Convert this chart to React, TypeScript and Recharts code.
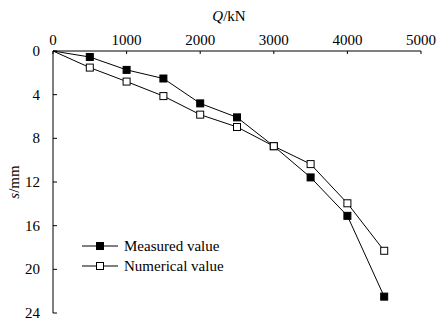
import React from "react";
import { LineChart, Line, XAxis, YAxis } from "recharts";

// Load Q (kN) vs settlement s (mm)
const loads = [0, 500, 1000, 1500, 2000, 2500, 3000, 3500, 4000, 4500];
const measured = [0, 0.55, 1.73, 2.52, 4.8, 6.08, 8.72, 11.58, 15.1, 22.5];
const numerical = [0, 1.52, 2.8, 4.13, 5.83, 6.96, 8.72, 10.36, 13.95, 18.3];
const xTicks = [0, 1000, 2000, 3000, 4000, 5000];
const yTicks = [0, 4, 8, 12, 16, 20, 24];
const legendItems = [
  { label: "Measured value", filled: true },
  { label: "Numerical value", filled: false },
];

const data = loads.map((q, i) => ({ q, measured: measured[i], numerical: numerical[i] }));

const FONT = '"Liberation Serif", "Times New Roman", serif';
const INK = "#000";
const textStyle = { fontFamily: FONT, fontSize: 15 };

function Square({ cx, cy, filled }: { cx?: number; cy?: number; filled: boolean }) {
  if (cx == null || cy == null) return null;
  return (
    <rect
      x={cx - 3.5}
      y={cy - 3.5}
      width={7}
      height={7}
      fill={filled ? INK : "#fff"}
      stroke={INK}
      strokeWidth={1}
    />
  );
}

function XTick({ x, y, payload }: any) {
  return (
    <text x={x} y={y} textAnchor="middle" style={textStyle} fill={INK}>
      {payload.value}
    </text>
  );
}

function YTick({ x, y, payload }: any) {
  return (
    <text x={x} y={y + 5} textAnchor="end" style={textStyle} fill={INK}>
      {payload.value}
    </text>
  );
}

function LegendBox() {
  return (
    <svg
      width={170}
      height={44}
      style={{ position: "absolute", left: 82, top: 237, overflow: "visible" }}
    >
      {legendItems.map((r, i) => {
        const y = 9 + i * 20;
        return (
          <g key={r.label}>
            <line x1={0} x2={36} y1={y} y2={y} stroke={INK} strokeWidth={1} />
            <Square cx={18} cy={y} filled={r.filled} />
            <text x={42} y={y + 5} style={textStyle} fill={INK}>
              {r.label}
            </text>
          </g>
        );
      })}
    </svg>
  );
}

const dotFor = (filled: boolean, prefix: string) => (p: any) =>
  p.index === 0 ? (
    <g key={`${prefix}${p.index}`} />
  ) : (
    <Square key={`${prefix}${p.index}`} cx={p.cx} cy={p.cy} filled={filled} />
  );

export default function App() {
  return (
    <div
      style={{
        position: "absolute",
        left: 0,
        top: 0,
        width: 439,
        height: 322,
        background: "#fff",
        fontFamily: FONT,
      }}
    >
      <LineChart
        width={439}
        height={322}
        data={data}
        margin={{ top: 21, right: 18, bottom: 9, left: 13 }}
      >
        <XAxis
          dataKey="q"
          type="number"
          orientation="top"
          domain={[0, 5000]}
          ticks={xTicks}
          height={30}
          tickSize={-3}
          tickMargin={9}
          axisLine={{ stroke: INK, strokeWidth: 1 }}
          tickLine={{ stroke: INK, strokeWidth: 1 }}
          tick={<XTick />}
          label={{
            content: () => (
              <text x={229} y={21} textAnchor="middle" style={textStyle} fill={INK}>
                <tspan fontStyle="italic">Q</tspan>/kN
              </text>
            ),
          }}
        />
        <YAxis
          type="number"
          reversed
          domain={[0, 24]}
          ticks={yTicks}
          width={40}
          tickSize={-4}
          tickMargin={17}
          axisLine={{ stroke: INK, strokeWidth: 1 }}
          tickLine={{ stroke: INK, strokeWidth: 1 }}
          tick={<YTick />}
          label={{
            content: () => (
              <text
                x={16}
                y={182}
                transform="rotate(-90 16 182)"
                textAnchor="middle"
                dominantBaseline="middle"
                style={textStyle}
                fill={INK}
              >
                <tspan fontStyle="italic">s</tspan>/mm
              </text>
            ),
          }}
        />
        <Line
          dataKey="measured"
          stroke={INK}
          strokeWidth={1}
          isAnimationActive={false}
          dot={dotFor(true, "m")}
          activeDot={false}
        />
        <Line
          dataKey="numerical"
          stroke={INK}
          strokeWidth={1}
          isAnimationActive={false}
          dot={dotFor(false, "n")}
          activeDot={false}
        />
      </LineChart>
      <LegendBox />
    </div>
  );
}
